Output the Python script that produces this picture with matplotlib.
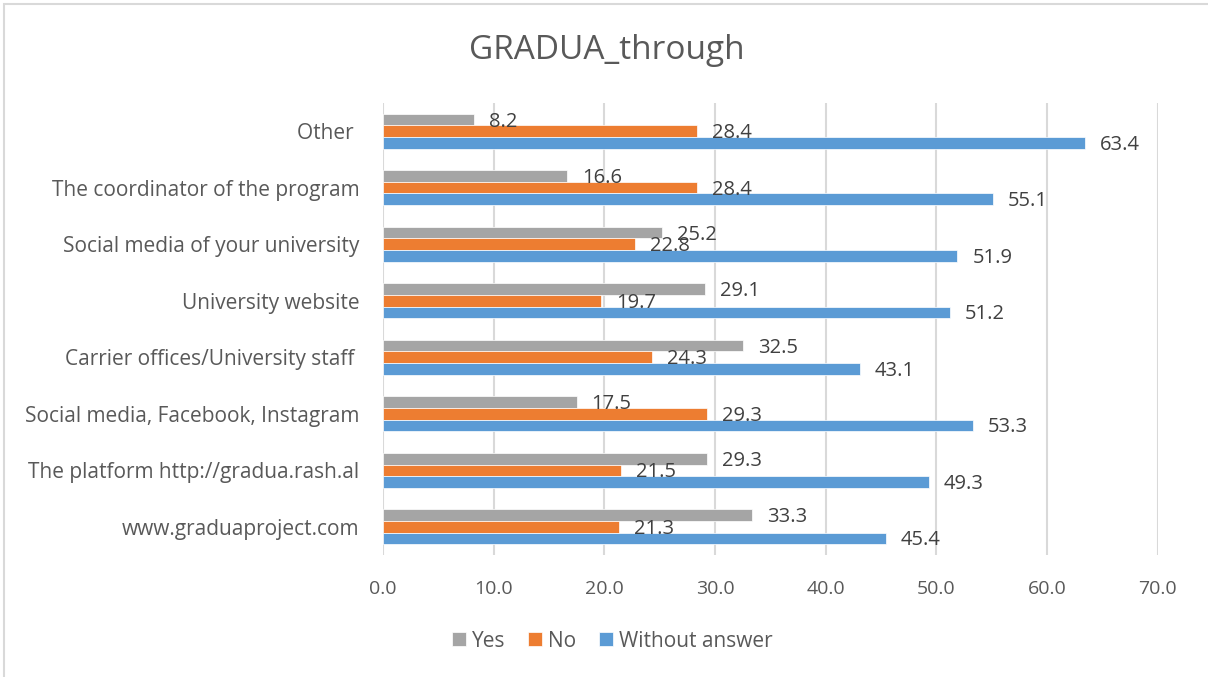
import matplotlib.pyplot as plt
import numpy as np
from matplotlib.patches import Rectangle

plt.rcParams['font.family'] = ['Open Sans', 'DejaVu Sans']

# Данные
categories = ['Other ', 'The coordinator of the program',
              'Social media of your university', 'University website',
              'Carrier offices/University staff ',
              'Social media, Facebook, Instagram',
              'The platform http://gradua.rash.al', 'www.graduaproject.com']
yes = [8.2, 16.6, 25.2, 29.1, 32.5, 17.5, 29.3, 33.3]
no = [28.4, 28.4, 22.8, 19.7, 24.3, 29.3, 21.5, 21.3]
without_answer = [63.4, 55.1, 51.9, 51.2, 43.1, 53.3, 49.3, 45.4]
series_names = ['Yes', 'No', 'Without answer']
colors = ['#A5A5A5', '#ED7D31', '#5B9BD5']

TEXT = '#595959'
LABEL = '#404040'


# Создаёт фигуру и оси
def create_axes():
    fig = plt.figure(figsize=(12.08, 6.77), dpi=100)
    ax = fig.add_axes([0.317, 0.180, 0.6415, 0.668])
    fig.patches.append(Rectangle((4 / 1208, -0.1), 1.2, 1 - 4 / 677 + 0.1,
                                 transform=fig.transFigure, fill=False,
                                 edgecolor='#D9D9D9', linewidth=1.5))
    return fig, ax


# Рисует столбцы и подписи значений
def plot_bars(ax):
    n = len(categories)
    y = np.arange(n)
    h = 0.205
    all_series = [yes, no, without_answer]
    for i, (vals, name, col) in enumerate(zip(all_series, series_names, colors)):
        pos = y + (i - 1) * h
        bars = ax.barh(pos, vals, height=h, color=col, label=name,
                       edgecolor='white', linewidth=0.5, zorder=3)
        for b, v in zip(bars, vals):
            ax.annotate(f'{v:.1f}', (b.get_width(), b.get_y() + b.get_height() / 2),
                        xytext=(15, -2), textcoords='offset pixels',
                        va='center', ha='left', fontsize=14.5, color=LABEL, zorder=4)
    ax.set_yticks(y)
    ax.set_yticklabels(categories)
    ax.set_ylim(n - 0.5, -0.5)


# Оформление
def setup_layout(fig, ax):
    ax.set_xlim(0, 70)
    ax.set_xticks(np.arange(0, 71, 10))
    ax.set_xticklabels([f'{t:.1f}' for t in np.arange(0, 71, 10)])
    ax.grid(True, axis='x', color='#D9D9D9', linewidth=1.5, zorder=0)
    ax.set_axisbelow(True)
    for s in ax.spines.values():
        s.set_visible(False)
    ax.tick_params(axis='x', length=0, labelsize=14, labelcolor=TEXT, pad=18)
    ax.tick_params(axis='y', length=0, labelsize=15, labelcolor=TEXT, pad=17)
    fig.text(0.5025, 0.925, 'GRADUA_through', ha='center', va='center',
             fontsize=24, color=TEXT)
    ax.legend(loc='center', bbox_to_anchor=(0.296, -0.19), ncol=3,
              frameon=False, fontsize=15, labelcolor=TEXT,
              handlelength=0.65, handleheight=0.65, handletextpad=0.3,
              columnspacing=1.1)


def build_plot():
    fig, ax = create_axes()
    plot_bars(ax)
    setup_layout(fig, ax)
    fig.savefig('out.png', dpi=100)


build_plot()
